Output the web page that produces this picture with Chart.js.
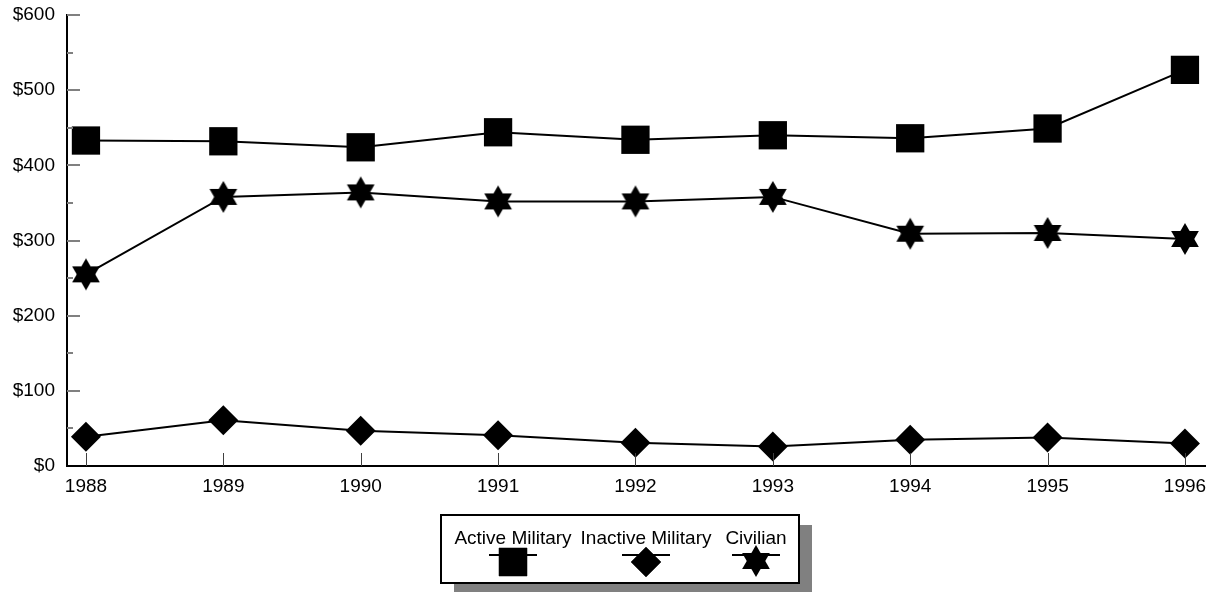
<!DOCTYPE html>
<html>
<head>
<meta charset="utf-8">
<script src="https://cdn.jsdelivr.net/npm/chart.js@4.4.1/dist/chart.umd.min.js"></script>
<style>
  html, body { margin: 0; padding: 0; background: #fff; }
  #wrap { width: 1210px; height: 592px; position: relative; }
</style>
</head>
<body>
<div id="wrap"><canvas id="costChart"></canvas></div>
<script>
// chart values
const years = [1988, 1989, 1990, 1991, 1992, 1993, 1994, 1995, 1996];
const activeMilitary = [433, 432, 424, 444, 434, 440, 436, 449, 527];
const inactiveMilitary = [39, 61, 47, 41, 31, 26, 35, 38, 30];
const civilian = [255, 358, 364, 352, 352, 358, 309, 310, 302];
const yTicks = [0, 100, 200, 300, 400, 500, 600];
const yMinorTicks = [50, 150, 250, 350, 450, 550];

const FONT = "Liberation Sans, Arial, sans-serif";

// six pointed star used as a point style
function makeStar(r) {
  const c = document.createElement("canvas");
  const s = Math.ceil(r * 2 + 2);
  c.width = s;
  c.height = s;
  const g = c.getContext("2d");
  const cx = s / 2, cy = s / 2;
  g.fillStyle = "#000";
  [-90, 90].forEach((start) => {
    g.beginPath();
    for (let k = 0; k < 3; k++) {
      const a = (start + k * 120) * Math.PI / 180;
      const px = cx + r * Math.cos(a);
      const py = cy + r * Math.sin(a);
      if (k === 0) g.moveTo(px, py); else g.lineTo(px, py);
    }
    g.closePath();
    g.fill();
  });
  return c;
}
const starImg = makeStar(16);

const toPoints = (vals) => vals.map((v, i) => ({ x: years[i], y: v }));

// inward tick marks on both axes
const tickMarks = {
  id: "tickMarks",
  afterDatasetsDraw(chart) {
    const { ctx, chartArea } = chart;
    const x = chart.scales.x, y = chart.scales.y;
    ctx.save();
    ctx.strokeStyle = "#808080";
    ctx.lineWidth = 2;
    yTicks.forEach((v) => {
      if (v === 0) return;
      const py = Math.round(y.getPixelForValue(v));
      ctx.beginPath();
      ctx.moveTo(chartArea.left, py);
      ctx.lineTo(chartArea.left + 13, py);
      ctx.stroke();
    });
    yMinorTicks.forEach((v) => {
      const py = Math.round(y.getPixelForValue(v));
      ctx.beginPath();
      ctx.moveTo(chartArea.left, py);
      ctx.lineTo(chartArea.left + 6, py);
      ctx.stroke();
    });
    ctx.strokeStyle = "#404040";
    ctx.lineWidth = 1;
    years.forEach((yr) => {
      const px = Math.round(x.getPixelForValue(yr)) + 0.5;
      ctx.beginPath();
      ctx.moveTo(px, chartArea.bottom);
      ctx.lineTo(px, chartArea.bottom - 13);
      ctx.stroke();
    });
    ctx.restore();
  },
};

// boxed legend with drop shadow below the plot
const boxLegend = {
  id: "boxLegend",
  afterDraw(chart) {
    const { ctx } = chart;
    const bx = 441, by = 515, bw = 358, bh = 68;
    ctx.save();
    ctx.fillStyle = "#808080";
    ctx.fillRect(bx + 13, by + 10, bw, bh);
    ctx.fillStyle = "#fff";
    ctx.fillRect(bx, by, bw, bh);
    ctx.strokeStyle = "#000";
    ctx.lineWidth = 2;
    ctx.strokeRect(bx, by, bw, bh);

    const centers = [513, 646, 756];
    ctx.font = "19px " + FONT;
    ctx.fillStyle = "#000";
    ctx.textAlign = "center";
    ctx.textBaseline = "middle";
    chart.data.datasets.forEach((ds, i) => {
      const cx = centers[i];
      ctx.fillText(ds.label, cx, 539);
      ctx.strokeStyle = "#000";
      ctx.lineWidth = 2;
      ctx.beginPath();
      ctx.moveTo(cx - 24, 555);
      ctx.lineTo(cx + 24, 555);
      ctx.stroke();
      if (ds.pointStyle instanceof HTMLCanvasElement) {
        ctx.drawImage(ds.pointStyle, cx - ds.pointStyle.width / 2, 561 - ds.pointStyle.height / 2);
      } else {
        ctx.beginPath();
        Chart.helpers.drawPoint(ctx, {
          pointStyle: ds.pointStyle,
          radius: ds.pointRadius,
          borderWidth: 0,
        }, cx, 562);
        ctx.fillStyle = "#000";
        ctx.fill();
      }
    });
    ctx.restore();
  },
};

new Chart(document.getElementById("costChart"), {
  type: "line",
  data: {
    datasets: [
      {
        label: "Active Military",
        data: toPoints(activeMilitary),
        borderColor: "#000",
        backgroundColor: "#000",
        borderWidth: 2,
        pointStyle: "rect",
        pointRadius: 20,
        pointBorderWidth: 0,
      },
      {
        label: "Inactive Military",
        data: toPoints(inactiveMilitary),
        borderColor: "#000",
        backgroundColor: "#000",
        borderWidth: 2,
        pointStyle: "rectRot",
        pointRadius: 15,
        pointBorderWidth: 0,
      },
      {
        label: "Civilian",
        data: toPoints(civilian),
        borderColor: "#000",
        backgroundColor: "#000",
        borderWidth: 2,
        pointStyle: starImg,
        pointRadius: 16,
        pointBorderWidth: 0,
      },
    ],
  },
  options: {
    responsive: true,
    maintainAspectRatio: false,
    animation: false,
    events: [],
    layout: {
      autoPadding: false,
      padding: { top: 15, right: 5, bottom: 96, left: 0 },
    },
    plugins: {
      legend: { display: false },
      tooltip: { enabled: false },
    },
    scales: {
      x: {
        type: "linear",
        min: 1987.862,
        max: 1996.146,
        afterBuildTicks: (scale) => {
          scale.ticks = years.map((v) => ({ value: v }));
        },
        afterFit: (scale) => {
          scale.height = 30;
          scale.paddingLeft = 0;
          scale.paddingRight = 0;
        },
        grid: { display: false, drawTicks: false },
        border: { display: true, color: "#000", width: 2 },
        ticks: {
          padding: 9,
          color: "#000",
          font: { family: FONT, size: 19 },
          callback: (v) => String(v),
        },
      },
      y: {
        min: 0,
        max: 600,
        afterBuildTicks: (scale) => {
          scale.ticks = yTicks.map((v) => ({ value: v }));
        },
        afterFit: (scale) => {
          scale.width = 67;
          scale.paddingTop = 0;
          scale.paddingBottom = 0;
        },
        grid: { display: false, drawTicks: false },
        border: { display: true, color: "#000", width: 2 },
        ticks: {
          padding: 12,
          color: "#000",
          font: { family: FONT, size: 19 },
          callback: (v) => "$" + v,
        },
      },
    },
  },
  plugins: [tickMarks, boxLegend],
});
</script>
</body>
</html>
